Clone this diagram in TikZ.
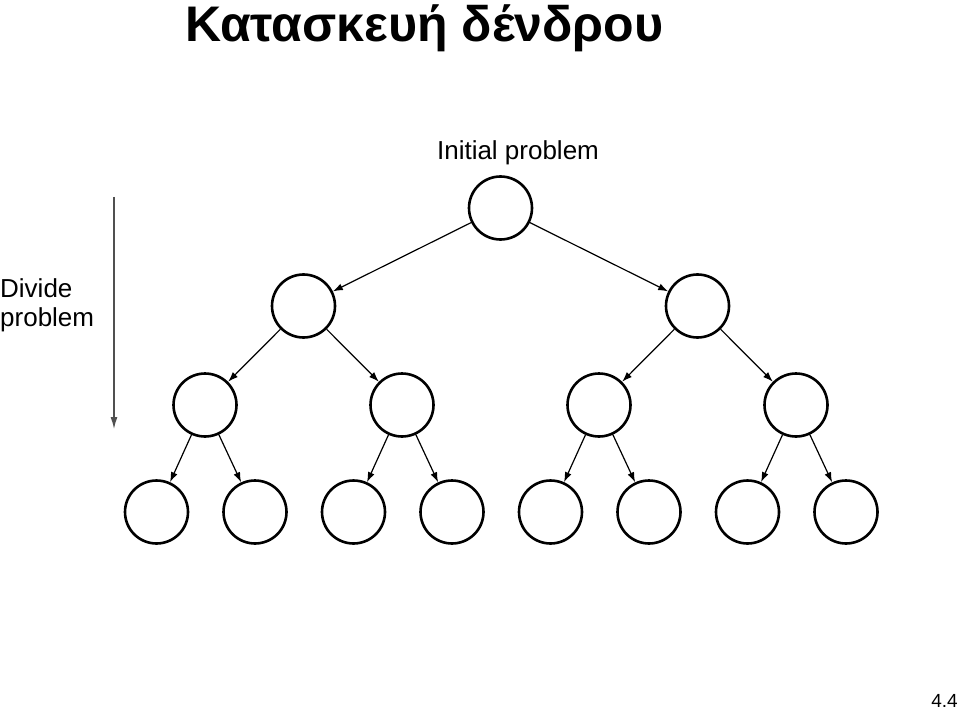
\documentclass[tikz,border=0pt]{standalone}
\usepackage{fontspec}
\setmainfont{Liberation Sans}
\usetikzlibrary{arrows.meta}
\definecolor{axisgray}{HTML}{505050}
\tikzset{
  subprob/.style={circle,draw,line width=2.6pt,minimum size=63pt,inner sep=0},
  split/.style={-{Latex[length=10pt,width=7pt]},line width=1.2pt},
  % the long arrow on the left shows the direction of the split
  divarrow/.style={-{Latex[length=12pt,width=7pt]},line width=1.3pt,draw=axisgray},
  title/.style={font=\fontsize{50}{56}\selectfont\bfseries},
  lab/.style={font=\fontsize{26}{29}\selectfont},
  pagenum/.style={font=\fontsize{19}{22}\selectfont},
}
\begin{document}
\begin{tikzpicture}[x=1pt,y=-1pt]
  \useasboundingbox (0,0) rectangle (960,711);
  \node[title,anchor=base west,inner sep=0] (ttl) at (185,42) {Κατασκευή δένδρου};
  \node[lab,anchor=base,inner sep=0] (init) at (518,160) {Initial problem};
  % the tree: node k has children 2k and 2k+1
  \node[subprob] (n1) at (500.5,208) {};
  \foreach \i [evaluate=\i as \k using int(2+\i), evaluate=\i as \x using 303.5+394*\i] in {0,1}
    \node[subprob] (n\k) at (\x,306) {};
  \foreach \i [evaluate=\i as \k using int(4+\i), evaluate=\i as \x using 205+197*\i] in {0,...,3}
    \node[subprob] (n\k) at (\x,405) {};
  \foreach \i [evaluate=\i as \k using int(8+\i), evaluate=\i as \x using 156.5+98.5*\i] in {0,...,7}
    \node[subprob] (n\k) at (\x,512) {};
  \foreach \k [evaluate=\k as \l using int(2*\k), evaluate=\k as \m using int(2*\k+1)] in {1,...,7} {
    \draw[split] (n\k) -- (n\l);
    \draw[split] (n\k) -- (n\m);
  }
  % left side
  \coordinate (dtop) at (114,197);
  \coordinate (dbot) at (114,429);
  \draw[divarrow] (dtop) -- (dbot);
  \node[lab,anchor=base west,align=left,inner sep=0] (div) at (0,326) {Divide\\problem};
  \node[pagenum,anchor=base east,inner sep=0] (pg) at (958,707) {4.4};
\end{tikzpicture}
\end{document}
